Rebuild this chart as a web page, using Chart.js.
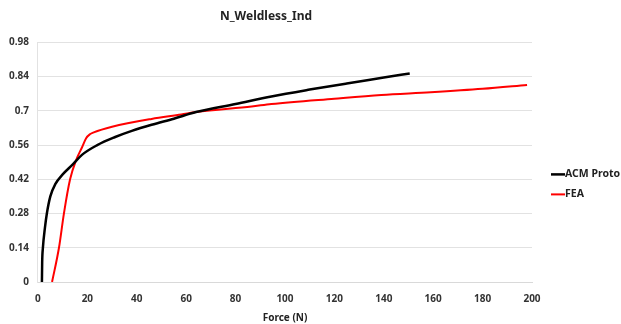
<!DOCTYPE html>
<html>
<head>
<meta charset="utf-8">
<script src="https://cdn.jsdelivr.net/npm/chart.js@4.4.1/dist/chart.umd.min.js"></script>
<style>
  html, body { margin: 0; padding: 0; background: #fff; }
  #wrap { width: 621px; height: 324px; }
</style>
</head>
<body>
<div id="wrap"><canvas id="chart" width="621" height="324"></canvas></div>
<script>
// ACM Proto (force N, value)
const acmForce = [1.6, 1.7, 2.0, 2.8, 3.6, 5, 7, 10, 14, 17.8, 24, 31, 38, 46, 55, 64, 80, 94.5, 110, 125, 140, 150.5];
const acmValue = [0, 0.08, 0.14, 0.22, 0.28, 0.35, 0.40, 0.44, 0.48, 0.52, 0.56, 0.592, 0.618, 0.643, 0.668, 0.695, 0.728, 0.759, 0.787, 0.812, 0.836, 0.853];

// FEA
const feaForce = [5.7, 8.5, 10.5, 13, 15.5, 17.8, 19.5, 21, 22.6, 30, 46, 58, 64, 86.5, 94.5, 120, 139, 159, 180, 198];
const feaValue = [0, 0.14, 0.28, 0.42, 0.50, 0.55, 0.588, 0.604, 0.612, 0.635, 0.667, 0.685, 0.695, 0.718, 0.728, 0.75, 0.765, 0.776, 0.79, 0.806];

const yTicks = [0, 0.14, 0.28, 0.42, 0.56, 0.7, 0.84, 0.98];
const xTicks = [0, 20, 40, 60, 80, 100, 120, 140, 160, 180, 200];

const toPoints = (xs, ys) => xs.map((x, i) => ({ x: x, y: ys[i] }));

const fontFamily = "'Noto Sans', 'Open Sans', sans-serif";

// legend on the right, drawn next to the plot area
const sideLegend = {
  id: 'sideLegend',
  afterDraw(chart) {
    const { ctx, chartArea } = chart;
    const x = chartArea.right + 19;
    ctx.save();
    ctx.font = 'bold 10.5px ' + fontFamily;
    ctx.textBaseline = 'middle';
    ctx.textAlign = 'left';
    chart.data.datasets.forEach((ds, i) => {
      const y = chartArea.top + 132 + i * 20;
      ctx.strokeStyle = ds.borderColor;
      ctx.lineWidth = ds.borderWidth;
      ctx.beginPath();
      ctx.moveTo(x, y);
      ctx.lineTo(x + 14, y);
      ctx.stroke();
      ctx.fillStyle = '#222';
      ctx.fillText(ds.label, x + 14, y);
    });
    ctx.restore();
  }
};

const ctx = document.getElementById('chart').getContext('2d');
new Chart(ctx, {
  type: 'scatter',
  data: {
    datasets: [{
      label: 'ACM Proto',
      data: toPoints(acmForce, acmValue),
      showLine: true,
      borderColor: '#000000',
      backgroundColor: '#000000',
      borderWidth: 2.5,
      pointRadius: 0,
      cubicInterpolationMode: 'monotone'
    }, {
      label: 'FEA',
      data: toPoints(feaForce, feaValue),
      showLine: true,
      borderColor: '#ff0000',
      backgroundColor: '#ff0000',
      borderWidth: 2,
      pointRadius: 0,
      cubicInterpolationMode: 'monotone'
    }]
  },
  options: {
    responsive: false,
    animation: false,
    layout: { padding: { left: 0, right: 89, top: 7, bottom: 0 } },
    plugins: {
      title: {
        display: true,
        text: 'N_Weldless_Ind',
        color: '#222',
        font: { family: fontFamily, size: 12, weight: 'bold' },
        padding: { top: 2, bottom: 19 }
      },
      legend: { display: false },
      tooltip: { enabled: false }
    },
    scales: {
      x: {
        type: 'linear',
        min: 0,
        max: 200,
        afterBuildTicks: axis => { axis.ticks = xTicks.map(v => ({ value: v })); },
        grid: { display: false, drawTicks: false, tickLength: 0 },
        border: { color: '#d9d9d9', width: 1 },
        ticks: {
          color: '#333',
          padding: 11,
          font: { family: fontFamily, size: 10, weight: 'bold' }
        },
        title: {
          display: true,
          text: 'Force (N)',
          color: '#222',
          font: { family: fontFamily, size: 10, weight: 'bold' },
          padding: { top: -4, bottom: 0 }
        }
      },
      y: {
        type: 'linear',
        min: 0,
        max: 0.98,
        afterBuildTicks: axis => { axis.ticks = yTicks.map(v => ({ value: v })); },
        grid: { color: '#e2e2e2', drawTicks: false, tickLength: 0 },
        border: { color: '#e2e2e2', width: 1 },
        ticks: {
          color: '#333',
          padding: 9,
          font: { family: fontFamily, size: 10, weight: 'bold' },
          callback: v => String(v)
        }
      }
    }
  },
  plugins: [sideLegend]
});
</script>
</body>
</html>
